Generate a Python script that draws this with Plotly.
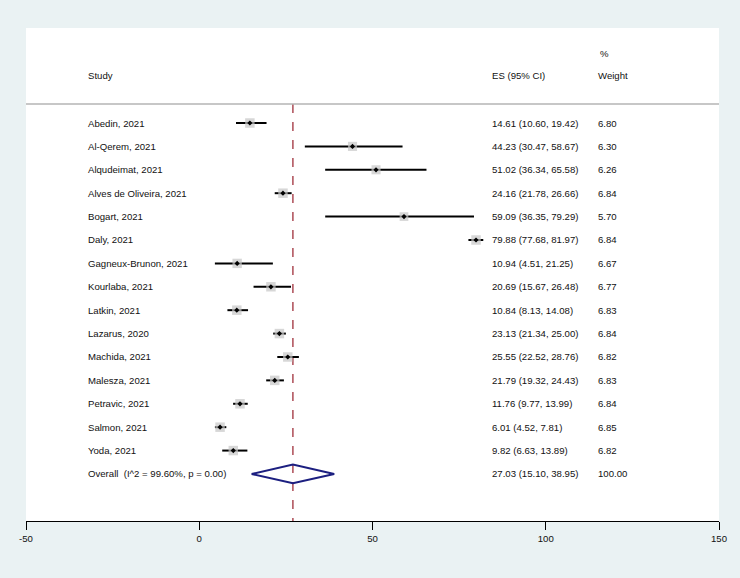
import plotly.graph_objects as go

studies = ["Abedin, 2021", "Al-Qerem, 2021", "Alqudeimat, 2021", "Alves de Oliveira, 2021",
           "Bogart, 2021", "Daly, 2021", "Gagneux-Brunon, 2021", "Kourlaba, 2021",
           "Latkin, 2021", "Lazarus, 2020", "Machida, 2021", "Malesza, 2021",
           "Petravic, 2021", "Salmon, 2021", "Yoda, 2021"]
es = [14.61, 44.23, 51.02, 24.16, 59.09, 79.88, 10.94, 20.69, 10.84, 23.13, 25.55, 21.79, 11.76, 6.01, 9.82]
lo = [10.60, 30.47, 36.34, 21.78, 36.35, 77.68, 4.51, 15.67, 8.13, 21.34, 22.52, 19.32, 9.77, 4.52, 6.63]
hi = [19.42, 58.67, 65.58, 26.66, 79.29, 81.97, 21.25, 26.48, 14.08, 25.00, 28.76, 24.43, 13.99, 7.81, 13.89]
weight = [6.80, 6.30, 6.26, 6.84, 5.70, 6.84, 6.67, 6.77, 6.83, 6.84, 6.82, 6.83, 6.84, 6.85, 6.82]

overall_label = "Overall  (I^2 = 99.60%, p = 0.00)"
overall_es, overall_lo, overall_hi, overall_w = 27.03, 15.10, 38.95, 100.00

tick_vals = [-50, 0, 50, 100, 150]

W, H = 740, 578
ML, MR, MT, MB = 26, 21, 28, 57
X0, X1 = -50, 150
n = len(studies)
rows = list(range(n))
ov_row = n
Y_TOP, Y_BOT = -4.06, 17.01

BG = "#eaf2f3"
FONT = "Liberation Sans, Arial, sans-serif"
FS = 9.6

def px_to_paper_x(px):
    # annotations carry ~2px of internal padding
    return (px - 2 - ML) / (W - ML - MR)

fig = go.Figure()

# CI lines
cx, cy = [], []
for i in rows:
    cx += [lo[i], hi[i], None]
    cy += [i, i, None]
fig.add_trace(go.Scatter(x=cx, y=cy, mode="lines", line=dict(color="black", width=2),
                         hoverinfo="skip", showlegend=False))
# weight boxes
fig.add_trace(go.Scatter(x=es, y=rows, mode="markers",
                         marker=dict(symbol="square", color="#c6c6c6",
                                     size=[9.5 * (w / 6.84) ** 0.5 for w in weight], line=dict(width=0)),
                         hoverinfo="skip", showlegend=False))
# center points
fig.add_trace(go.Scatter(x=es, y=rows, mode="markers",
                         marker=dict(symbol="diamond", color="black", size=4, line=dict(width=0)),
                         hoverinfo="skip", showlegend=False))
# overall diamond
dh = 0.4
fig.add_trace(go.Scatter(x=[overall_lo, overall_es, overall_hi, overall_es, overall_lo],
                         y=[ov_row, ov_row - dh, ov_row, ov_row + dh, ov_row],
                         mode="lines", line=dict(color="#1c1f80", width=2),
                         hoverinfo="skip", showlegend=False))

# dashed overall line
fig.add_shape(type="line", x0=overall_es, x1=overall_es, y0=-0.81, y1=Y_BOT, xref="x", yref="y",
              line=dict(color="#a0303c", width=1.3, dash="dash"), layer="below")
# header separator line
fig.add_shape(type="line", x0=0, x1=1, y0=-0.81, y1=-0.81, xref="paper", yref="y",
              line=dict(color="#b4b4b4", width=1.5))

x_study = px_to_paper_x(88)
x_es = px_to_paper_x(492)
x_w = px_to_paper_x(598)
x_pct = px_to_paper_x(600)

def txt(x, y, s):
    fig.add_annotation(x=x, y=y, xref="paper", yref="y", text=s, showarrow=False,
                       xanchor="left", yanchor="middle", font=dict(family=FONT, size=FS, color="#111"))

txt(x_study, -2.05, "Study")
txt(x_es, -2.05, "ES (95% CI)")
txt(x_pct, -2.99, "%")
txt(x_w, -2.05, "Weight")

for i in rows:
    txt(x_study, i, studies[i])
    txt(x_es, i, f"{es[i]:.2f} ({lo[i]:.2f}, {hi[i]:.2f})")
    txt(x_w, i, f"{weight[i]:.2f}")
txt(x_study, ov_row, overall_label)
txt(x_es, ov_row, f"{overall_es:.2f} ({overall_lo:.2f}, {overall_hi:.2f})")
txt(x_w, ov_row, f"{overall_w:.2f}")

fig.update_layout(
    width=W, height=H,
    margin=dict(l=ML, r=MR, t=MT, b=MB, pad=0),
    paper_bgcolor=BG, plot_bgcolor="white",
    font=dict(family=FONT, size=FS, color="#111"),
    xaxis=dict(range=[X0, X1], tickvals=tick_vals, ticktext=[str(v) for v in tick_vals],
               showgrid=False, zeroline=False, showline=True, linecolor="black", linewidth=1,
               ticks="outside", ticklen=8, tickwidth=1.2, tickcolor="black",
               tickfont=dict(family=FONT, size=FS, color="#111"), fixedrange=True),
    yaxis=dict(range=[Y_BOT, Y_TOP], visible=False, showgrid=False, zeroline=False, fixedrange=True),
    showlegend=False,
)

fig.write_html("out.html", config={"displayModeBar": False},
               post_script="document.body.style.margin='0';document.body.style.background='" + BG + "';")
